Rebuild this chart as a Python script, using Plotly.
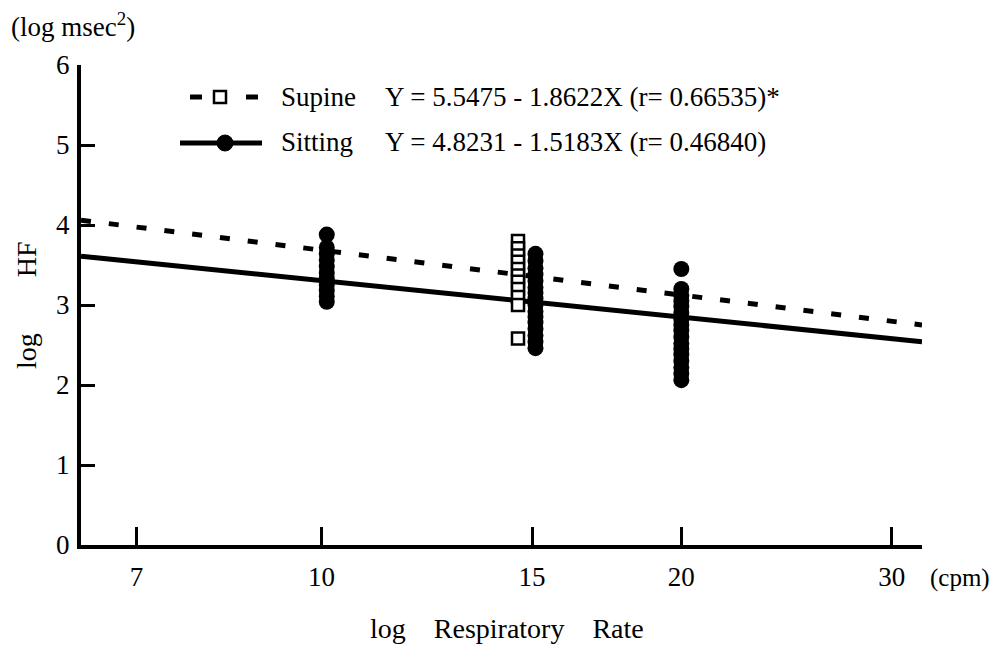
import numpy as np
import plotly.graph_objects as go

# ---------------- data ----------------
x_ticks = [7, 10, 15, 20, 30]
y_ticks = [0, 1, 2, 3, 4, 5, 6]

sitting_rate_10 = 10.1
sitting_hf_10 = [3.88, 3.72, 3.64, 3.56, 3.48, 3.40, 3.33, 3.25, 3.18, 3.11, 3.04]
sitting_rate_15 = 15.1
sitting_hf_15 = [3.64, 3.55, 3.46, 3.38, 3.30, 3.22, 3.15, 3.08, 3.00, 2.92, 2.85,
                 2.78, 2.70, 2.62, 2.54, 2.46]
sitting_rate_20 = 20.0
sitting_hf_20 = [3.45, 3.20, 3.12, 3.05, 2.98, 2.90, 2.82, 2.75, 2.68, 2.60, 2.52,
                 2.45, 2.38, 2.30, 2.22, 2.14, 2.06]

supine_rate_15 = 14.6
supine_hf_15 = [3.80, 3.71, 3.62, 3.54, 3.45, 3.37, 3.29, 3.20, 3.10, 3.00, 2.58]

# regression: Y = a - b * log10(rate)
supine_coef = [5.5475, 1.8622]
sitting_coef = [4.8231, 1.5183]
rate_range = [6.29, 31.8]

supine_label = "Supine"
supine_eq = "Y = 5.5475 - 1.8622X (r= 0.66535)*"
sitting_label = "Sitting"
sitting_eq = "Y = 4.8231 - 1.5183X (r= 0.46840)"

FONT = "Liberation Serif"

# page has an 8px body margin; plot area spans x 81..922, y 65..545 in the window
OFF = 8
W, H = 999 - 2 * OFF, 664 - 2 * OFF
ML, MT = 81 - OFF, 65 - OFF
PW, PH = 841, 480
MR = W - ML - PW
MB = H - MT - PH


def px(xp):
    return (xp - 81) / PW


def py(yp):
    return (545 - yp) / PH


# ---------------- figure ----------------
fig = go.Figure()

line_x = np.array(rate_range)
fig.add_trace(go.Scatter(
    x=line_x, y=supine_coef[0] - supine_coef[1] * np.log10(line_x),
    mode="lines", line=dict(color="black", width=5, dash="10px,18px"),
    showlegend=False, hoverinfo="skip"))
fig.add_trace(go.Scatter(
    x=line_x, y=sitting_coef[0] - sitting_coef[1] * np.log10(line_x),
    mode="lines", line=dict(color="black", width=5),
    showlegend=False, hoverinfo="skip"))

fig.add_trace(go.Scatter(
    x=[supine_rate_15] * len(supine_hf_15), y=supine_hf_15, mode="markers",
    marker=dict(symbol="square", size=12, color="white",
                line=dict(color="black", width=2.5)),
    showlegend=False))

sx = ([sitting_rate_10] * len(sitting_hf_10) + [sitting_rate_15] * len(sitting_hf_15)
      + [sitting_rate_20] * len(sitting_hf_20))
sy = sitting_hf_10 + sitting_hf_15 + sitting_hf_20
fig.add_trace(go.Scatter(
    x=sx, y=sy, mode="markers",
    marker=dict(symbol="circle", size=16, color="black"),
    showlegend=False))

fig.update_layout(
    width=W, height=H,
    margin=dict(l=ML, r=MR, t=MT, b=MB),
    paper_bgcolor="white", plot_bgcolor="white",
    font=dict(family=FONT, size=27, color="black"),
    showlegend=False,
)
fig.update_xaxes(
    type="log", range=[np.log10(rate_range[0]), np.log10(rate_range[1])],
    tickvals=x_ticks, ticktext=[str(v) for v in x_ticks],
    ticks="inside", ticklen=18, tickwidth=3, tickcolor="black",
    showline=True, linewidth=4, linecolor="black", mirror=False,
    showgrid=False, zeroline=False, ticklabelstandoff=5,
    tickfont=dict(family=FONT, size=27),
)
fig.update_yaxes(
    range=[0, 6], tickvals=y_ticks,
    ticks="inside", ticklen=14, tickwidth=3, tickcolor="black",
    showline=True, linewidth=4, linecolor="black",
    showgrid=False, zeroline=False, ticklabelstandoff=2,
    tickfont=dict(family=FONT, size=27),
)

ann = []
ann.append(dict(xref="paper", yref="paper", x=px(9), y=py(25), xanchor="left",
                yanchor="middle", text="(log msec<sup>2</sup>)", showarrow=False,
                font=dict(size=27)))
ann.append(dict(xref="paper", yref="paper", x=px(507), y=py(628), xanchor="center",
                yanchor="middle",
                text="log\u00a0\u00a0\u00a0\u00a0Respiratory\u00a0\u00a0\u00a0\u00a0Rate",
                showarrow=False, font=dict(size=28)))
ann.append(dict(xref="paper", yref="paper", x=px(928), y=py(578), xanchor="left",
                yanchor="middle", text="(cpm)", showarrow=False, font=dict(size=25)))
ann.append(dict(xref="paper", yref="paper", x=px(26), y=py(305), xanchor="center",
                yanchor="middle",
                text="log\u00a0\u00a0\u00a0\u00a0\u00a0\u00a0\u00a0\u00a0HF", textangle=-90,
                showarrow=False, font=dict(size=28)))
# legend texts
for label, eq, yp in [(supine_label, supine_eq, 97), (sitting_label, sitting_eq, 142)]:
    ann.append(dict(xref="paper", yref="paper", x=px(279), y=py(yp),
                    xanchor="left", yanchor="middle", text=label, showarrow=False))
    ann.append(dict(xref="paper", yref="paper", x=px(383), y=py(yp),
                    xanchor="left", yanchor="middle", text=eq, showarrow=False))
fig.update_layout(annotations=ann)

# legend samples (pixel-based decorations)
shapes = []
for x0, x1 in [(190, 202), (246, 258)]:
    shapes.append(dict(type="line", xref="paper", yref="paper", x0=px(x0), x1=px(x1),
                       y0=py(97), y1=py(97), line=dict(color="black", width=5)))
shapes.append(dict(type="rect", xref="paper", yref="paper", x0=px(214), x1=px(226),
                   y0=py(103), y1=py(91), line=dict(color="black", width=2.5),
                   fillcolor="white"))
shapes.append(dict(type="line", xref="paper", yref="paper", x0=px(180), x1=px(262),
                   y0=py(143), y1=py(143), line=dict(color="black", width=5)))
shapes.append(dict(type="circle", xref="paper", yref="paper", x0=px(217), x1=px(233),
                   y0=py(151), y1=py(135), line=dict(color="black", width=1),
                   fillcolor="black"))
fig.update_layout(shapes=shapes)

fig.write_html("out.html")
